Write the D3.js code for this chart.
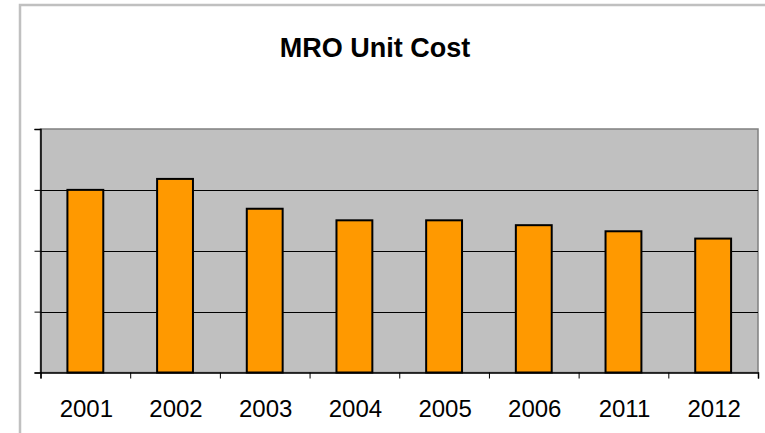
<!DOCTYPE html>
<html lang="en">
<head>
    <meta charset="UTF-8">
    <title>MRO Unit Cost</title>
    <script src="https://cdn.jsdelivr.net/npm/d3@7/dist/d3.min.js"></script>
    <style>
        html, body { margin: 0; background: #fff; overflow: hidden; }
        svg { display: block; font-family: "Liberation Sans", Arial, sans-serif; }
    </style>
</head>
<body>
    <div class="container"></div>
    <script>
        const years = ["2001", "2002", "2003", "2004", "2005", "2006", "2011", "2012"]
        const unitCost = [3.0, 3.18, 2.69, 2.5, 2.5, 2.42, 2.32, 2.2]
        const yTicks = [0, 1, 2, 3, 4]

        const width = 765, height = 433
        const plotLeft = 40.5, plotRight = 758, plotTop = 129, plotBottom = 372.5

        const svg = d3.select(".container").append("svg")
            .attr("width", width).attr("height", height)

        // outer chart border, only left and top edges are in view
        svg.append("path")
            .attr("d", `M20,${height} V5 H${width}`)
            .attr("fill", "none")
            .attr("stroke", "#c0c0c0")
            .attr("stroke-width", 2.5)

        svg.append("text")
            .attr("x", 375).attr("y", 56.5)
            .attr("text-anchor", "middle")
            .attr("font-size", "27px")
            .attr("font-weight", "bold")
            .text("MRO Unit Cost")

        const x = d3.scaleBand().domain(years).range([plotLeft, plotRight])
            .paddingInner(0.6).paddingOuter(0.3)
        const y = d3.scaleLinear().domain([0, 4]).range([plotBottom, plotTop])
        const xEdges = d3.scaleLinear().domain([0, years.length]).range([plotLeft, plotRight])

        // plot area
        svg.append("rect")
            .attr("x", plotLeft).attr("y", plotTop)
            .attr("width", plotRight - plotLeft).attr("height", plotBottom - plotTop)
            .attr("fill", "#c0c0c0")
            .attr("stroke", "#808080")
            .attr("stroke-width", 1.5)

        svg.append("g").selectAll("line")
            .data(yTicks.filter(d => d > 0 && d < 4))
            .join("line")
            .attr("x1", plotLeft).attr("x2", plotRight)
            .attr("y1", d => Math.round(y(d)) + 0.5)
            .attr("y2", d => Math.round(y(d)) + 0.5)
            .attr("stroke", "#000")
            .attr("stroke-width", 1)

        svg.append("g").selectAll("rect")
            .data(unitCost)
            .join("rect")
            .attr("x", (d, i) => x(years[i]))
            .attr("y", d => y(d))
            .attr("width", x.bandwidth())
            .attr("height", d => plotBottom - y(d))
            .attr("fill", "#ff9900")
            .attr("stroke", "#000")
            .attr("stroke-width", 2)

        // y axis: ticks only, no labels
        svg.append("g")
            .attr("transform", `translate(${plotLeft},0)`)
            .call(d3.axisLeft(y).tickValues(yTicks).tickSize(6).tickFormat(""))
            .call(g => g.select(".domain").attr("stroke-width", 1.5))

        // x axis: ticks on category boundaries
        svg.append("g")
            .attr("transform", `translate(0,${plotBottom})`)
            .call(d3.axisBottom(xEdges).tickValues(d3.range(years.length + 1)).tickSize(6).tickFormat(""))
            .call(g => g.select(".domain").attr("stroke-width", 1.5))

        svg.append("g").selectAll("text")
            .data(years)
            .join("text")
            .attr("x", d => x(d) + x.bandwidth() / 2 + 1)
            .attr("y", 416.5)
            .attr("text-anchor", "middle")
            .attr("font-size", "24px")
            .text(d => d)
    </script>
</body>
</html>
